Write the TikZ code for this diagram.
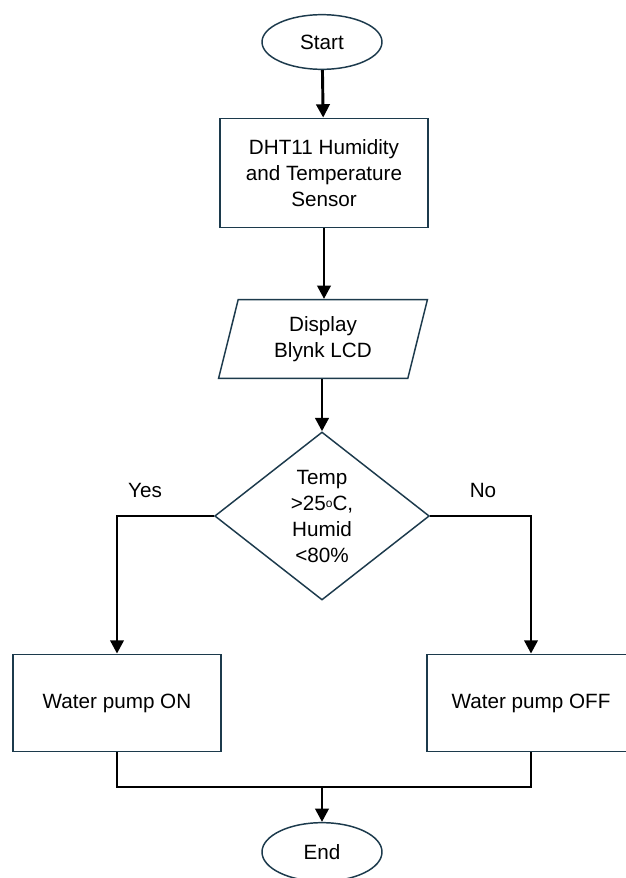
\documentclass[tikz,border=0pt]{standalone}
\usepackage{fontspec}
\setmainfont{Liberation Sans}
\usetikzlibrary{shapes.geometric,arrows.meta}
\definecolor{edgeblue}{HTML}{1C3A4C}
\tikzset{
  term/.style={draw=edgeblue, line width=1.1pt, ellipse, minimum width=90pt, minimum height=41pt, inner sep=0pt},
  procbox/.style={draw=edgeblue, line width=1.1pt, rectangle, align=center, inner sep=0pt},
  iobox/.style={draw=edgeblue, line width=1.1pt, trapezium, trapezium left angle=76, trapezium right angle=104,
    minimum width=157pt, minimum height=58.5pt, align=center, inner sep=0pt},
  choice/.style={draw=edgeblue, line width=1.1pt, diamond, shape aspect=1.28, minimum width=161pt,
    minimum height=126pt, align=center, inner sep=0pt},
  flow/.style={line width=2.2pt, -{Triangle[length=10pt,width=10pt]}},
  joint/.style={line width=2.2pt}
}

\begin{document}
\begin{tikzpicture}[x=0.75pt, y=-0.75pt, font=\fontsize{15.5}{19.5}\selectfont]
      \fill[white] (0,0) rectangle (625,878);
      \useasboundingbox (0,0) rectangle (625,878);
      \node (start) at (322,42) [term] {Start};
      \node (sensor) at (324,173) [procbox, minimum width=156pt, minimum height=82pt]
        {DHT11 Humidity\\and Temperature\\Sensor};
      \node (lcd) at (323,339) [iobox] {Display\\Blynk LCD};
      \node (check) at (322,516) [choice] {Temp\\>25\raisebox{0.2ex}{\small o}C,\\Humid\\<80\%};
      \node (pumpon) at (117,703) [procbox, minimum width=156pt, minimum height=73pt] {Water pump ON};
      \node (pumpoff) at (531,703) [procbox, minimum width=156pt, minimum height=73pt] {Water pump OFF};
      \node (finish) at (322,852) [term, minimum height=44pt] {End};
      \coordinate (merge) at (322,787);
      \draw (145,490) node (yes) {Yes};
      \draw (483,490) node (no) {No};
      \draw[flow] (start) to (sensor);
      \draw[flow] (sensor) to (lcd.north -| sensor.south);
      \draw[flow] (lcd.south -| check.north) to (check);
      \draw[flow] (check.west) -| (pumpon.north);
      \draw[flow] (check.east) -| (pumpoff.north);
      \draw[joint] (pumpon.south) |- (merge) -| (pumpoff.south);
      \draw[flow] (merge) to (finish);
    \end{tikzpicture}
\end{document}
